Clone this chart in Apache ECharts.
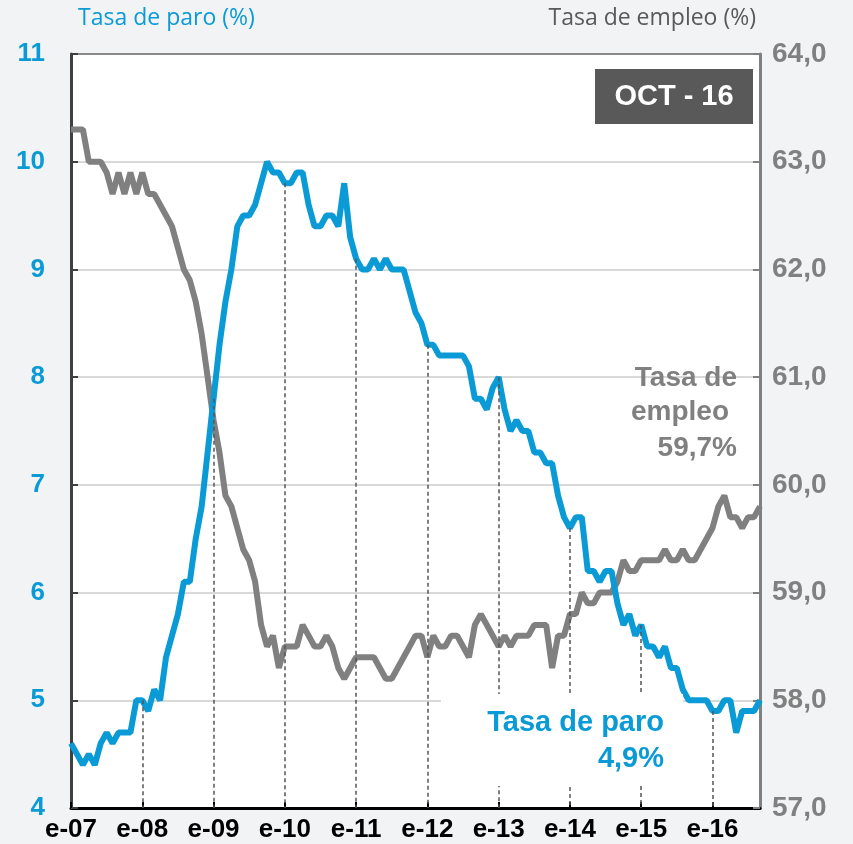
<!DOCTYPE html>
<html>
<head>
<meta charset="utf-8">
<script src="https://cdn.jsdelivr.net/npm/echarts@6/dist/echarts.min.js"></script>
<style>
  html, body { margin: 0; padding: 0; background: #f2f3f5; }
  #chart { width: 853px; height: 844px; }
</style>
</head>
<body>
<div id="chart"></div>
<script>
// meses (inicial) y años del eje
const mesesIni = ['e', 'f', 'm', 'a', 'm', 'j', 'j', 'a', 's', 'o', 'n', 'd'];
const anios = ['07', '08', '09', '10', '11', '12', '13', '14', '15', '16'];

// tasa de paro (%), mensual desde ene-07
const paro07 = [4.6, 4.5, 4.4, 4.5, 4.4, 4.6, 4.7, 4.6, 4.7, 4.7, 4.7, 5.0];
const paro08 = [5.0, 4.9, 5.1, 5.0, 5.4, 5.6, 5.8, 6.1, 6.1, 6.5, 6.8, 7.3];
const paro09 = [7.8, 8.3, 8.7, 9.0, 9.4, 9.5, 9.5, 9.6, 9.8, 10.0, 9.9, 9.9];
const paro10 = [9.8, 9.8, 9.9, 9.9, 9.6, 9.4, 9.4, 9.5, 9.5, 9.4, 9.8, 9.3];
const paro11 = [9.1, 9.0, 9.0, 9.1, 9.0, 9.1, 9.0, 9.0, 9.0, 8.8, 8.6, 8.5];
const paro12 = [8.3, 8.3, 8.2, 8.2, 8.2, 8.2, 8.2, 8.1, 7.8, 7.8, 7.7, 7.9];
const paro13 = [8.0, 7.7, 7.5, 7.6, 7.5, 7.5, 7.3, 7.3, 7.2, 7.2, 6.9, 6.7];
const paro14 = [6.6, 6.7, 6.7, 6.2, 6.2, 6.1, 6.2, 6.2, 5.9, 5.7, 5.8, 5.6];
const paro15 = [5.7, 5.5, 5.5, 5.4, 5.5, 5.3, 5.3, 5.1, 5.0, 5.0, 5.0, 5.0];
const paro16 = [4.9, 4.9, 5.0, 5.0, 4.7, 4.9, 4.9, 4.9, 5.0];

// tasa de empleo (%)
const empleo07 = [63.3, 63.3, 63.3, 63.0, 63.0, 63.0, 62.9, 62.7, 62.9, 62.7, 62.9, 62.7];
const empleo08 = [62.9, 62.7, 62.7, 62.6, 62.5, 62.4, 62.2, 62.0, 61.9, 61.7, 61.4, 61.0];
const empleo09 = [60.6, 60.3, 59.9, 59.8, 59.6, 59.4, 59.3, 59.1, 58.7, 58.5, 58.6, 58.3];
const empleo10 = [58.5, 58.5, 58.5, 58.7, 58.6, 58.5, 58.5, 58.6, 58.5, 58.3, 58.2, 58.3];
const empleo11 = [58.4, 58.4, 58.4, 58.4, 58.3, 58.2, 58.2, 58.3, 58.4, 58.5, 58.6, 58.6];
const empleo12 = [58.4, 58.6, 58.5, 58.5, 58.6, 58.6, 58.5, 58.4, 58.7, 58.8, 58.7, 58.6];
const empleo13 = [58.5, 58.6, 58.5, 58.6, 58.6, 58.6, 58.7, 58.7, 58.7, 58.3, 58.6, 58.6];
const empleo14 = [58.8, 58.8, 59.0, 58.9, 58.9, 59.0, 59.0, 59.0, 59.1, 59.3, 59.2, 59.2];
const empleo15 = [59.3, 59.3, 59.3, 59.3, 59.4, 59.3, 59.3, 59.4, 59.3, 59.3, 59.4, 59.5];
const empleo16 = [59.6, 59.8, 59.9, 59.7, 59.7, 59.6, 59.7, 59.7, 59.8];

const paro = [].concat(paro07, paro08, paro09, paro10, paro11, paro12, paro13, paro14, paro15, paro16);
const empleo = [].concat(empleo07, empleo08, empleo09, empleo10, empleo11, empleo12, empleo13, empleo14, empleo15, empleo16);

const categorias = [];
anios.forEach(a => mesesIni.forEach(m => { if (categorias.length < paro.length) categorias.push(m + '-' + a); }));

// líneas verticales de cada enero (desde la tasa de paro hasta el eje)
const enerosIdx = [];
for (let i = 12; i < paro.length; i += 12) enerosIdx.push(i);

const azul = '#0a9bd7';
const gris = '#808080';
const fuente = '"Liberation Sans", Arial, sans-serif';

const chart = echarts.init(document.getElementById('chart'));

const option = {
  backgroundColor: '#f2f3f5',
  animation: false,
  grid: {
    left: 71, right: 93, top: 54, bottom: 36,
    show: true, backgroundColor: '#ffffff', borderColor: '#8a8a8a', borderWidth: 2
  },
  xAxis: {
    type: 'category',
    data: categorias,
    boundaryGap: false,
    axisLine: { lineStyle: { color: '#000', width: 3 } },
    axisTick: {
      show: true, inside: true, length: 6,
      interval: (idx) => idx % 12 === 0,
      lineStyle: { color: '#000', width: 2 }
    },
    axisLabel: {
      interval: (idx) => idx % 12 === 0,
      color: '#000', fontWeight: 'bold', fontSize: 26, fontFamily: fuente, margin: 9
    },
    splitLine: { show: false }
  },
  yAxis: [
    {
      type: 'value', min: 4, max: 11, interval: 1, position: 'left',
      axisLine: { show: true, lineStyle: { color: '#404040', width: 3 } },
      axisTick: { show: true, inside: true, length: 7, lineStyle: { color: '#404040', width: 2 } },
      axisLabel: { color: azul, fontWeight: 'bold', fontSize: 26, fontFamily: fuente, margin: 26 },
      splitLine: {
        show: true,
        lineStyle: { width: 2, color: ['#d9d9d9', '#d9d9d9', '#d9d9d9', '#d9d9d9', '#d9d9d9', '#d9d9d9', '#d9d9d9', '#8a8a8a'] }
      }
    },
    {
      type: 'value', min: 57, max: 64, interval: 1, position: 'right',
      axisLine: { show: true, lineStyle: { color: gris, width: 3 } },
      axisTick: { show: true, inside: true, length: 7, lineStyle: { color: gris, width: 2 } },
      axisLabel: {
        color: gris, fontWeight: 'bold', fontSize: 28, fontFamily: fuente, margin: 12,
        formatter: (v) => v.toFixed(1).replace('.', ',')
      },
      splitLine: { show: false }
    }
  ],
  series: [
    {
      type: 'line', name: 'enero', data: paro, yAxisIndex: 0, z: 1, silent: true,
      showSymbol: false, symbol: 'none', lineStyle: { opacity: 0 },
      markLine: {
        silent: true, symbol: ['none', 'none'], label: { show: false },
        lineStyle: { color: '#555', width: 1.5, type: [4, 3] },
        data: enerosIdx.map(i => [{ coord: [categorias[i], paro[i]] }, { coord: [categorias[i], 4] }])
      }
    },
    {
      type: 'line', name: 'Tasa de empleo', data: empleo, yAxisIndex: 1, z: 3,
      showSymbol: false, symbol: 'none',
      lineStyle: { color: gris, width: 6 }
    },
    {
      type: 'line', name: 'Tasa de paro', data: paro, yAxisIndex: 0, z: 4,
      showSymbol: false, symbol: 'none',
      lineStyle: { color: azul, width: 6 }
    }
  ],
  graphic: [
    { type: 'text', z: 100, style: { text: 'Tasa de paro (%)', x: 78, y: 18, fill: azul, font: '23px "Open Sans", sans-serif', verticalAlign: 'middle', textVerticalAlign: 'middle' } },
    { type: 'text', z: 100, style: { text: 'Tasa de empleo (%)', x: 756, y: 18, fill: '#595959', font: '23px "Open Sans", sans-serif', align: 'right', textAlign: 'right', verticalAlign: 'middle', textVerticalAlign: 'middle' } },
    { type: 'rect', z: 100, shape: { x: 595, y: 69, width: 158, height: 55 }, style: { fill: '#595959' } },
    { type: 'text', z: 101, style: { text: 'OCT - 16', x: 674, y: 97, fill: '#ffffff', font: 'bold 29px ' + fuente, align: 'center', textAlign: 'center', verticalAlign: 'middle', textVerticalAlign: 'middle' } },
    { type: 'rect', z: 100, shape: { x: 441, y: 694, width: 242, height: 92 }, style: { fill: '#ffffff' } },
    { type: 'text', z: 101, style: { text: 'Tasa de paro', x: 664, y: 723, fill: azul, font: 'bold 29px ' + fuente, align: 'right', textAlign: 'right', verticalAlign: 'middle', textVerticalAlign: 'middle' } },
    { type: 'text', z: 101, style: { text: '4,9%', x: 664, y: 759, fill: azul, font: 'bold 29px ' + fuente, align: 'right', textAlign: 'right', verticalAlign: 'middle', textVerticalAlign: 'middle' } },
    { type: 'text', z: 101, style: { text: 'Tasa de', x: 737, y: 378, fill: gris, font: 'bold 28px ' + fuente, align: 'right', textAlign: 'right', verticalAlign: 'middle', textVerticalAlign: 'middle' } },
    { type: 'text', z: 101, style: { text: 'empleo', x: 729, y: 412, fill: gris, font: 'bold 28px ' + fuente, align: 'right', textAlign: 'right', verticalAlign: 'middle', textVerticalAlign: 'middle' } },
    { type: 'text', z: 101, style: { text: '59,7%', x: 737, y: 448, fill: gris, font: 'bold 28px ' + fuente, align: 'right', textAlign: 'right', verticalAlign: 'middle', textVerticalAlign: 'middle' } }
  ]
};

chart.setOption(option);
</script>
</body>
</html>
